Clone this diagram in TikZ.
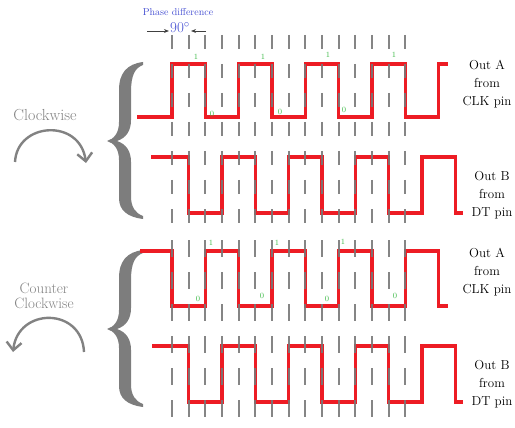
\documentclass[tikz,border=0pt]{standalone}
\usepackage{tikz}
\usetikzlibrary{arrows.meta,positioning}
\definecolor{wavered}{RGB}{237,28,36}
\definecolor{tickgray}{RGB}{120,120,120}
\definecolor{bracegray}{RGB}{125,125,125}
\definecolor{turngray}{RGB}{130,130,130}
\definecolor{bitgreen}{RGB}{60,185,70}
\definecolor{phaseblue}{RGB}{70,80,210}

\begin{document}
\begin{tikzpicture}[x=1pt,y=-1pt,>=Stealth,
    wave/.style={draw=wavered,line width=3.4pt,line join=miter},
    tick/.style={draw=tickgray,line width=1.8pt,opacity=0.9},
    bit/.style={text=bitgreen,font=\fontsize{8}{8}\selectfont,inner sep=0pt},
    pinlabel/.style={align=center,font=\fontsize{13}{18}\selectfont,inner sep=0pt},
    turnlabel/.style={text=turngray,align=center,inner sep=0pt},
    turn/.style={draw=turngray,line width=2.4pt,-{Straight Barb[length=8pt,width=15pt]}}]
  \useasboundingbox (0,0) rectangle (515,428);

  %% Braces
  \foreach \dy in {0,188} {
    \begin{scope}[shift={(0,\dy)}]
      \fill[bracegray] (143,62) .. controls (127,64) and (119,73) .. (119,90)
        -- (119,122) .. controls (119,133) and (114,139) .. (107,141)
        .. controls (114,143) and (119,149) .. (119,160)
        -- (119,198) .. controls (119,210) and (127,217) .. (143,219)
        -- (143,216) .. controls (135,213) and (131,207) .. (131,196)
        -- (131,162) .. controls (131,151) and (126,144) .. (117,141)
        .. controls (126,138) and (131,131) .. (131,120)
        -- (131,92) .. controls (131,75) and (135,68) .. (143,65) -- cycle;
    \end{scope}
  }

  %% Clockwise: Out A and Out B
  \draw[wave] (137,117) -- (172,117)
    \foreach \k in {0,...,3} { -- ++(0,-53) -- ++(33.333,0) -- ++(0,53) -- ++(33.333,0) }
    -- ++(0,-53) -- (448,64);
  \draw[wave] (151,157) -- (188.667,157)
    \foreach \k in {0,...,3} { -- ++(0,56) -- ++(33.333,0) -- ++(0,-56) -- ++(33.333,0) }
    -- ++(0,56) -- (463,213);
  %% Counter clockwise: Out A and Out B
  \draw[wave] (140,251) -- (172,251)
    \foreach \k in {0,...,3} { -- ++(0,55) -- ++(33.333,0) -- ++(0,-55) -- ++(33.333,0) }
    -- ++(0,55) -- (448,306);
  \draw[wave] (152,346) -- (188.667,346)
    \foreach \k in {0,...,3} { -- ++(0,56) -- ++(33.333,0) -- ++(0,-56) -- ++(33.333,0) }
    -- ++(0,56) -- (463,402);

  %% Dashed time marks
  \foreach \k in {0,...,14} {
    \draw[tick,dash pattern=on 14pt off 15pt] (172+\k*16.667,35) -- (172+\k*16.667,225);
    \draw[tick,dash pattern=on 17pt off 15pt] (172+\k*16.667,240) -- (172+\k*16.667,428);
  }

  %% Bit values
  \foreach \x/\y [count=\i] in {196/57,263/57,328/55,394/55}
    \node[bit] (onecw\i) at (\x,\y) {1};
  \foreach \x/\y [count=\i] in {212/114,280/112,344/110}
    \node[bit] (zerocw\i) at (\x,\y) {0};
  \foreach \x/\y [count=\i] in {211/243,277/243,343/242}
    \node[bit] (oneccw\i) at (\x,\y) {1};
  \foreach \x/\y [count=\i] in {198/299,262/296,327/299,395/296}
    \node[bit] (zeroccw\i) at (\x,\y) {0};

  %% Phase difference
  \node[text=phaseblue,font=\fontsize{10}{10}\selectfont,inner sep=0pt] (phase) at (178,12) {Phase difference};
  \node[text=phaseblue,font=\fontsize{15}{15}\selectfont,inner sep=1pt] (ninety) at (180,28) {90$^{\circ}$};
  \coordinate (phasel) at (147,31);
  \coordinate (phaser) at (206,31);
  \draw[-{Stealth[length=5pt,width=4pt]},line width=0.8pt,black!75] (phasel) -- (phasel -| ninety.west);
  \draw[-{Stealth[length=5pt,width=4pt]},line width=0.8pt,black!75] (phaser) -- (phaser -| ninety.east);

  %% Rotation labels
  \node[turnlabel,font=\fontsize{16}{17}\selectfont] (cw) at (45,115) {Clockwise};
  \coordinate (cwstart) at (15,162);
  \coordinate (cwend) at (86,163);
  \draw[turn] (cwstart) .. controls (17,122) and (80,118) .. (cwend);
  \node[turnlabel,font=\fontsize{15}{15.5}\selectfont] (ccw) at (44,296) {Counter\\Clockwise};
  \coordinate (ccwstart) at (84,352);
  \coordinate (ccwend) at (13,352);
  \draw[turn] (ccwstart) .. controls (82,307) and (18,307) .. (ccwend);

  %% Pin labels
  \node[pinlabel] (outacw) at (487,84) {Out A\\from\\CLK pin};
  \node[pinlabel] (outbcw) at (492,195) {Out B\\from\\DT pin};
  \node[pinlabel] (outaccw) at (487,272) {Out A\\from\\CLK pin};
  \node[pinlabel] (outbccw) at (492,384) {Out B\\from\\DT pin};
\end{tikzpicture}
\end{document}
